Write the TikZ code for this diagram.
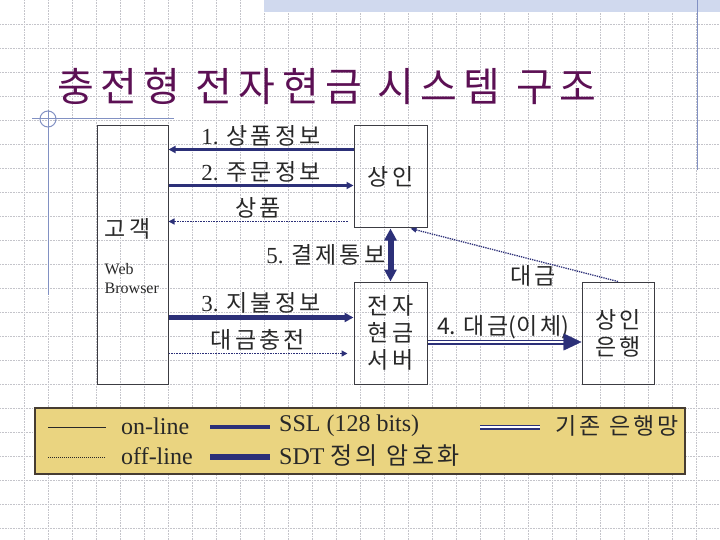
\documentclass[tikz,border=0pt]{standalone}
\usepackage{fontspec}
\setmainfont{Liberation Serif}
\newfontfamily\krfont[LetterSpace=14]{Noto Sans CJK KR}
\newfontfamily\krplainfont{Noto Sans CJK KR}
\newfontfamily\krtitlefont[LetterSpace=16]{Noto Sans CJK KR}
\usetikzlibrary{arrows.meta,calc}

\definecolor{navy}{RGB}{44,48,120}
\definecolor{titlecolor}{RGB}{92,16,84}
\definecolor{textgray}{RGB}{40,40,40}
\definecolor{boxgray}{RGB}{60,60,66}
\definecolor{gridgray}{RGB}{196,196,202}
\definecolor{decoblue}{RGB}{130,145,195}
\definecolor{bandblue}{RGB}{208,217,238}
\definecolor{legendfill}{RGB}{234,212,128}
\definecolor{legenddraw}{RGB}{70,60,50}

\begin{document}
\begin{tikzpicture}[x=1pt, y=-1pt,
    grid style/.style={draw=gridgray, line width=0.6pt, densely dotted},
    deco style/.style={draw=decoblue, line width=1pt},
    title style/.style={font=\krtitlefont\fontsize{40}{44}\selectfont, text=titlecolor, inner sep=0pt},
    box style/.style={draw=boxgray, line width=1pt, inner sep=0pt, align=center,
        font=\krfont\fontsize{23}{27}\selectfont, text=textgray},
    label style/.style={font=\krfont\fontsize{23}{27}\selectfont, text=textgray, inner sep=2pt},
    online style/.style={draw=navy, line width=2.3pt, -{Triangle[length=7pt,width=7pt]}},
    sdt style/.style={draw=navy, line width=4.5pt, -{Triangle[length=9pt,width=9pt]}},
    notify style/.style={draw=navy, line width=6pt,
        {Triangle[length=12pt,width=12pt]}-{Triangle[length=12pt,width=12pt]}},
    offline style/.style={draw=navy, line width=1.6pt, densely dotted,
        -{Triangle[length=6pt,width=6pt]}},
    money style/.style={draw=navy, line width=1.3pt, densely dotted,
        -{Triangle[length=6pt,width=5pt]}},
    bank style/.style={draw=navy, line width=1.6pt, double=white, double distance=1.8pt},
    legend style/.style={draw=legenddraw, fill=legendfill, line width=1.5pt, inner sep=0pt},
    legend text/.style={font=\fontsize{24}{28}\selectfont, text=textgray, inner sep=0pt, anchor=west}]
    \useasboundingbox (0,0) rectangle (720,540);

    % background grid and slide marks
    \foreach \gx in {24,48,...,696} \draw[grid style] (\gx,0) -- (\gx,540);
    \foreach \gy in {24,48,...,528} \draw[grid style] (0,\gy) -- (720,\gy);
    \fill[bandblue] (264,0) rectangle (720,12);
    \draw[deco style] (697,0) -- (697,170);
    \draw[deco style] (32,119) -- (174,119);
    \draw[deco style] (48,110) -- (48,295);
    \draw[deco style] (48,119) circle[radius=8];

    \node[title style, anchor=west] (title) at (57,86) {충전형 전자현금 시스템 구조};

    % parties
    \node[box style, minimum width=71pt, minimum height=258pt] (cust) at (132.5,255) {};
    \node[box style, minimum width=73pt, minimum height=102pt] (merch) at (390.5,177) {상인};
    \node[box style, minimum width=73pt, minimum height=102pt] (server) at (390.5,333) {전자\\현금\\서버};
    \node[box style, minimum width=72pt, minimum height=102pt] (bank) at (618,333) {상인\\은행};

    \node[label style, anchor=west, inner sep=0pt] (custname) at ($(cust.north west)+(8,103)$) {고객};
    \node[font=\fontsize{16}{19}\selectfont, text=textgray, align=left, anchor=west, inner sep=0pt]
        (browser) at ($(cust.north west)+(8,153)$) {Web\\Browser};

    % flows
    \draw[online style] ($(merch.north west)+(0,24)$) -- node[above, label style] {{\rmfamily 1. }상품정보} ($(cust.north east)+(0,24)$);
    \draw[online style] ($(cust.north east)+(0,60)$) -- node[above, label style] {{\rmfamily 2. }주문정보} ($(merch.north west)+(0,60)$);
    \draw[offline style] ($(merch.north west)+(-6,96)$) -- node[above, label style] {상품} ($(cust.north east)+(0,96)$);

    \draw[sdt style] ($(cust.north east)+(0,192)$) -- node[above, label style] {{\rmfamily 3. }지불정보} ($(server.north west)+(0,36)$);
    \draw[offline style] ($(cust.north east)+(0,228)$) -- node[above, label style] {대금충전} ($(server.north west)+(-6,72)$);

    \draw[notify style] (merch.south) -- node[left, label style] {{\rmfamily 5. }결제통보} (server.north);

    \draw[bank style] ($(server.east)+(0,9)$) -- node[pos=0.55, above, label style] {{\krplainfont 4. }대금{\krplainfont (}이체{\krplainfont )}} ($(bank.west)+(-16,9)$);
    \draw[navy, -{Triangle[length=18pt,width=17pt]}] ($(bank.west)+(-18,9)$) -- ($(bank.west)+(0,9)$);

    \draw[money style] (bank.north) -- node[pos=0.41, below=3pt, label style] {대금} ($(merch.south east)+(-17,0)$);

    % legend
    \node[legend style, minimum width=650pt, minimum height=66pt] (legend) at (360,441) {};
    \draw[draw=textgray, line width=1pt] (48,427) -- (106,427);
    \node[legend text] (online) at (121,426) {on-line};
    \draw[draw=textgray, line width=1pt, densely dotted] (48,457) -- (106,457);
    \node[legend text] (offline) at (121,456) {off-line};
    \draw[draw=navy, line width=4pt] (210,427) -- (270,427);
    \node[legend text] (ssl) at (279,426) {SSL (128 bits)};
    \draw[draw=navy, line width=6pt] (210,457) -- (270,457);
    \node[legend text] (sdt) at (279,456) {SDT\ {\krfont 정의 암호화}};
    \draw[bank style] (480,427) -- (540,427);
    \node[legend text, font=\krfont\fontsize{23}{28}\selectfont] (banknet) at (555,426) {기존 은행망};

\end{tikzpicture}
\end{document}
